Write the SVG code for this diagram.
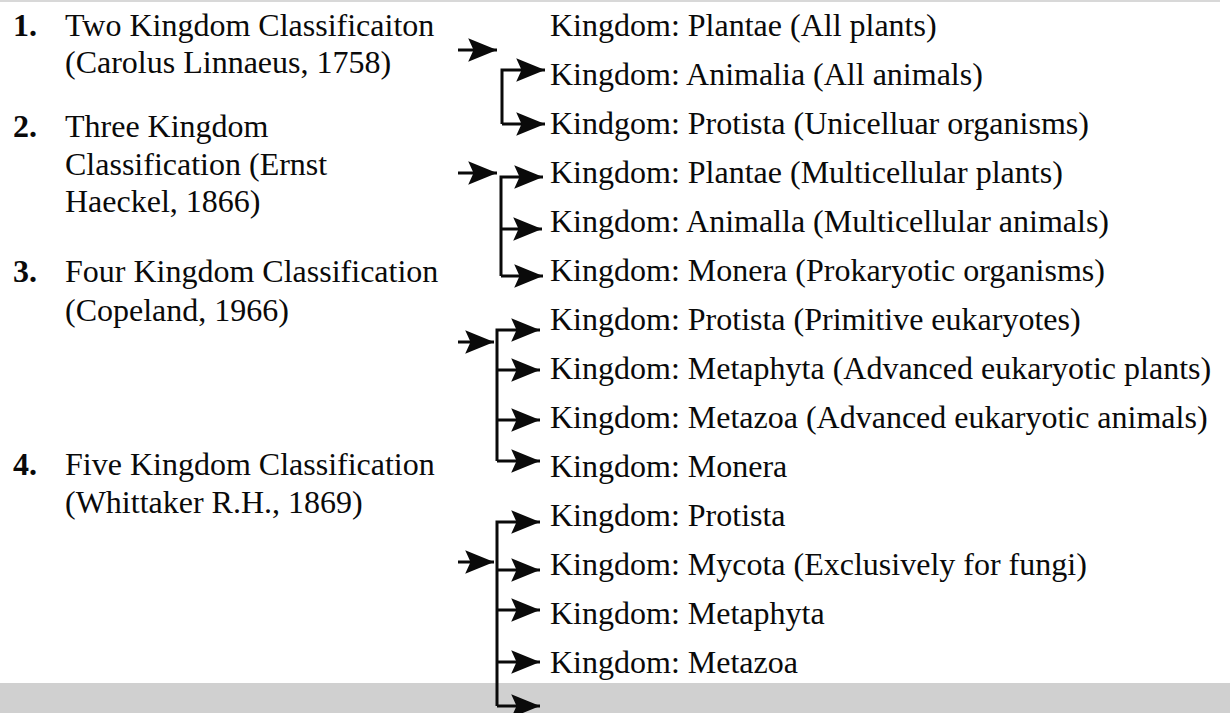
<svg xmlns="http://www.w3.org/2000/svg" width="1230" height="713" viewBox="0 0 1230 713">
<style>
  text { font-family: "Liberation Serif", "Times New Roman", serif; font-size: 32px; fill: #0a0a0a; }
  .num { font-weight: bold; }
  .conn { stroke: #0a0a0a; stroke-width: 3; fill: none; }
</style>
<defs>
  <marker id="ah" markerUnits="userSpaceOnUse" markerWidth="32" markerHeight="26" viewBox="-29 -12 30 24" refX="0" refY="0" orient="auto">
    <path d="M0,0 L-27,-11 L-22,0 L-27,11 Z" fill="#0a0a0a"/>
  </marker>
</defs>
<rect x="0" y="0" width="1230" height="713" fill="#ffffff"/>
<rect x="0" y="0" width="1220" height="2" fill="#d8d8d8"/>
<rect x="0" y="683" width="1230" height="30" fill="#d0d0d0"/>

<g id="left-labels">
  <g id="item1">
    <text class="num" x="13" y="36">1.</text>
    <text x="65" y="36">Two Kingdom Classificaiton</text>
    <text x="65" y="73">(Carolus Linnaeus, 1758)</text>
  </g>
  <g id="item2">
    <text class="num" x="13" y="137">2.</text>
    <text x="65" y="137">Three Kingdom</text>
    <text x="65" y="175">Classification (Ernst</text>
    <text x="65" y="212">Haeckel, 1866)</text>
  </g>
  <g id="item3">
    <text class="num" x="13" y="282">3.</text>
    <text x="65" y="282">Four Kingdom Classification</text>
    <text x="65" y="321">(Copeland, 1966)</text>
  </g>
  <g id="item4">
    <text class="num" x="13" y="475">4.</text>
    <text x="65" y="475">Five Kingdom Classification</text>
    <text x="65" y="513">(Whittaker R.H., 1869)</text>
  </g>
</g>

<g id="kingdoms">
  <g id="k1"><text x="550" y="36">Kingdom: Plantae (All plants)</text></g>
  <g id="k2"><text x="550" y="85">Kingdom: Animalia (All animals)</text></g>
  <g id="k3"><text x="550" y="134">Kindgom: Protista (Unicelluar organisms)</text></g>
  <g id="k4"><text x="550" y="183">Kingdom: Plantae (Multicellular plants)</text></g>
  <g id="k5"><text x="550" y="232">Kingdom: Animalla (Multicellular animals)</text></g>
  <g id="k6"><text x="550" y="281">Kingdom: Monera (Prokaryotic organisms)</text></g>
  <g id="k7"><text x="550" y="330">Kingdom: Protista (Primitive eukaryotes)</text></g>
  <g id="k8"><text x="550" y="379">Kingdom: Metaphyta (Advanced eukaryotic plants)</text></g>
  <g id="k9"><text x="550" y="428">Kingdom: Metazoa (Advanced eukaryotic animals)</text></g>
  <g id="k10"><text x="550" y="477">Kingdom: Monera</text></g>
  <g id="k11"><text x="550" y="526">Kingdom: Protista</text></g>
  <g id="k12"><text x="550" y="575">Kingdom: Mycota (Exclusively for fungi)</text></g>
  <g id="k13"><text x="550" y="624">Kingdom: Metaphyta</text></g>
  <g id="k14"><text x="550" y="673">Kingdom: Metazoa</text></g>
</g>

<g id="connectors">
  <!-- group 1 -->
  <path class="conn" d="M458,50 H497" marker-end="url(#ah)"/>
  <path class="conn" d="M502,124 V70 H545" marker-end="url(#ah)"/>
  <path class="conn" d="M502,124 H545" marker-end="url(#ah)"/>
  <!-- group 2 -->
  <path class="conn" d="M458,173 H497" marker-end="url(#ah)"/>
  <path class="conn" d="M501,276 V177 H543" marker-end="url(#ah)"/>
  <path class="conn" d="M501,229 H542" marker-end="url(#ah)"/>
  <path class="conn" d="M501,276 H543" marker-end="url(#ah)"/>
  <!-- group 3 -->
  <path class="conn" d="M458,342 H494" marker-end="url(#ah)"/>
  <path class="conn" d="M497,461 V330 H540" marker-end="url(#ah)"/>
  <path class="conn" d="M497,370 H540" marker-end="url(#ah)"/>
  <path class="conn" d="M497,420 H540" marker-end="url(#ah)"/>
  <path class="conn" d="M497,461 H540" marker-end="url(#ah)"/>
  <!-- group 4 -->
  <path class="conn" d="M458,562 H494" marker-end="url(#ah)"/>
  <path class="conn" d="M497,706 V522 H540" marker-end="url(#ah)"/>
  <path class="conn" d="M497,570 H540" marker-end="url(#ah)"/>
  <path class="conn" d="M497,610 H540" marker-end="url(#ah)"/>
  <path class="conn" d="M497,662 H540" marker-end="url(#ah)"/>
  <path class="conn" d="M497,706 H540" marker-end="url(#ah)"/>
</g>
</svg>
